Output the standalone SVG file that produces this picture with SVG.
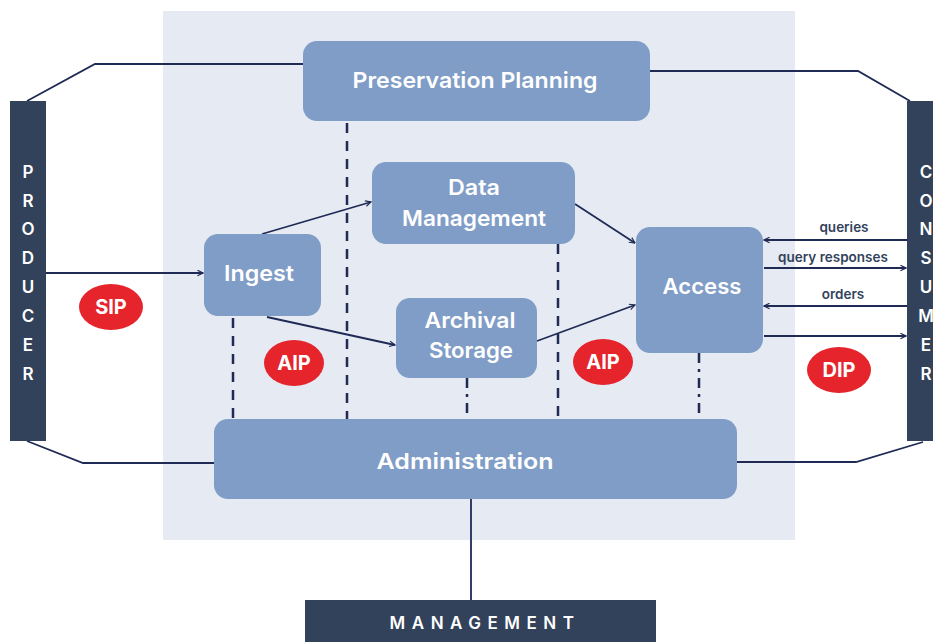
<svg xmlns="http://www.w3.org/2000/svg" width="933" height="642" viewBox="0 0 933 642">
<defs>
<marker id="ah" viewBox="0 0 10 10" refX="9" refY="5" markerWidth="7" markerHeight="7" orient="auto" markerUnits="userSpaceOnUse">
<path d="M1,1 L9,5 L1,9" fill="none" stroke="#1F2A55" stroke-width="1.6"/>
</marker>
<style>
.node{fill:#7F9DC6;}
.bar{fill:#32425B;}
.lbl{font-family:Inter,"Open Sans",sans-serif;font-weight:600;fill:#fff;font-size:22px;text-anchor:middle;}
.vl{font-family:Inter,"Open Sans",sans-serif;font-weight:600;fill:#fff;font-size:17px;text-anchor:middle;}
.small{font-family:Inter,"Open Sans",sans-serif;font-weight:600;fill:#32425B;font-size:13.5px;text-anchor:middle;}
.pk{font-family:Inter,"Open Sans",sans-serif;font-weight:700;fill:#fff;font-size:20px;text-anchor:middle;}
.ln{fill:none;stroke:#1F2A55;stroke-width:1.8;}
.dash{fill:none;stroke:#1F2A55;stroke-width:2.5;stroke-dasharray:10 8;}
.dd{fill:none;stroke:#1F2A55;stroke-width:2.5;stroke-dasharray:10 6 3 6;}
.red{fill:#E5242B;}
</style>
</defs>
<rect x="163" y="11" width="632" height="529" fill="#E6EAF3"/>
<g id="connectors">
<polyline class="ln" points="27,101 95,64 303,64"/>
<polyline class="ln" points="650,71 858,71 910,101"/>
<polyline class="ln" points="27,441 83,463 214,463"/>
<polyline class="ln" points="737,462 856,462 923,442"/>
<line class="ln" x1="46" y1="273" x2="203" y2="273" marker-end="url(#ah)"/>
<line class="ln" x1="262" y1="234" x2="371" y2="202" marker-end="url(#ah)"/>
<line class="ln" x1="267" y1="317" x2="395" y2="345" marker-end="url(#ah)"/>
<line class="ln" x1="575" y1="204" x2="635" y2="243" marker-end="url(#ah)"/>
<line class="ln" x1="537" y1="341" x2="635" y2="305" marker-end="url(#ah)"/>
<line class="ln" x1="907" y1="240" x2="764" y2="240" marker-end="url(#ah)"/>
<line class="ln" x1="764" y1="268" x2="906" y2="268" marker-end="url(#ah)"/>
<line class="ln" x1="907" y1="306" x2="764" y2="306" marker-end="url(#ah)"/>
<line class="ln" x1="764" y1="336" x2="906" y2="336" marker-end="url(#ah)"/>
<line class="dash" x1="233" y1="318" x2="233" y2="419"/>
<line class="dash" x1="347" y1="123" x2="347" y2="419"/>
<line class="dd" x1="467" y1="378" x2="467" y2="419"/>
<line class="dash" x1="558" y1="244" x2="558" y2="419"/>
<line class="dd" x1="699" y1="353" x2="699" y2="419"/>
<line class="ln" x1="471" y1="499" x2="471" y2="600"/>
<text class="small" x="844" y="232">queries</text>
<text class="small" x="833" y="262">query responses</text>
<text class="small" x="843" y="299">orders</text>
</g>
<g id="preservation-planning"><rect class="node" x="303" y="41" width="347" height="80" rx="14"/><text class="lbl" x="475" y="88" textLength="245" lengthAdjust="spacingAndGlyphs">Preservation Planning</text></g>
<g id="data-management"><rect class="node" x="372" y="162" width="203" height="82" rx="14"/><text class="lbl" x="474" y="195" textLength="52" lengthAdjust="spacingAndGlyphs">Data</text><text class="lbl" x="474" y="226" textLength="144" lengthAdjust="spacingAndGlyphs">Management</text></g>
<g id="ingest"><rect class="node" x="204" y="234" width="117" height="82" rx="14"/><text class="lbl" x="259" y="281" textLength="70" lengthAdjust="spacingAndGlyphs">Ingest</text></g>
<g id="archival-storage"><rect class="node" x="396" y="298" width="141" height="80" rx="14"/><text class="lbl" x="470" y="328" textLength="91" lengthAdjust="spacingAndGlyphs">Archival</text><text class="lbl" x="471" y="358" textLength="84" lengthAdjust="spacingAndGlyphs">Storage</text></g>
<g id="access"><rect class="node" x="636" y="227" width="127" height="126" rx="14"/><text class="lbl" x="702" y="294" textLength="79" lengthAdjust="spacingAndGlyphs">Access</text></g>
<g id="administration"><rect class="node" x="214" y="419" width="523" height="80" rx="14"/><text class="lbl" x="465" y="469" textLength="177" lengthAdjust="spacingAndGlyphs">Administration</text></g>
<g id="producer"><rect class="bar" x="10" y="101" width="36" height="340"/>
<text class="vl" x="28" y="178">P</text><text class="vl" x="28" y="207">R</text><text class="vl" x="28" y="235">O</text><text class="vl" x="28" y="264">D</text><text class="vl" x="28" y="293">U</text><text class="vl" x="28" y="322">C</text><text class="vl" x="28" y="351">E</text><text class="vl" x="28" y="380">R</text></g>
<g id="consumer"><rect class="bar" x="907" y="101" width="30" height="340"/>
<text class="vl" x="926" y="178">C</text><text class="vl" x="926" y="207">O</text><text class="vl" x="926" y="235">N</text><text class="vl" x="926" y="264">S</text><text class="vl" x="926" y="293">U</text><text class="vl" x="926" y="322">M</text><text class="vl" x="926" y="351">E</text><text class="vl" x="926" y="380">R</text></g>
<g id="management"><rect class="bar" x="305" y="600" width="351" height="42"/><text class="vl" x="485" y="629" font-size="18" letter-spacing="6.5">MANAGEMENT</text></g>
<g id="sip"><ellipse class="red" cx="111" cy="307" rx="32" ry="23"/><text class="pk" x="111" y="314">SIP</text></g>
<g id="aip1"><ellipse class="red" cx="294" cy="363" rx="30" ry="23"/><text class="pk" x="294" y="370">AIP</text></g>
<g id="aip2"><ellipse class="red" cx="603" cy="362" rx="30" ry="23"/><text class="pk" x="603" y="369">AIP</text></g>
<g id="dip"><ellipse class="red" cx="839" cy="370" rx="32" ry="23"/><text class="pk" x="839" y="377">DIP</text></g>
</svg>
